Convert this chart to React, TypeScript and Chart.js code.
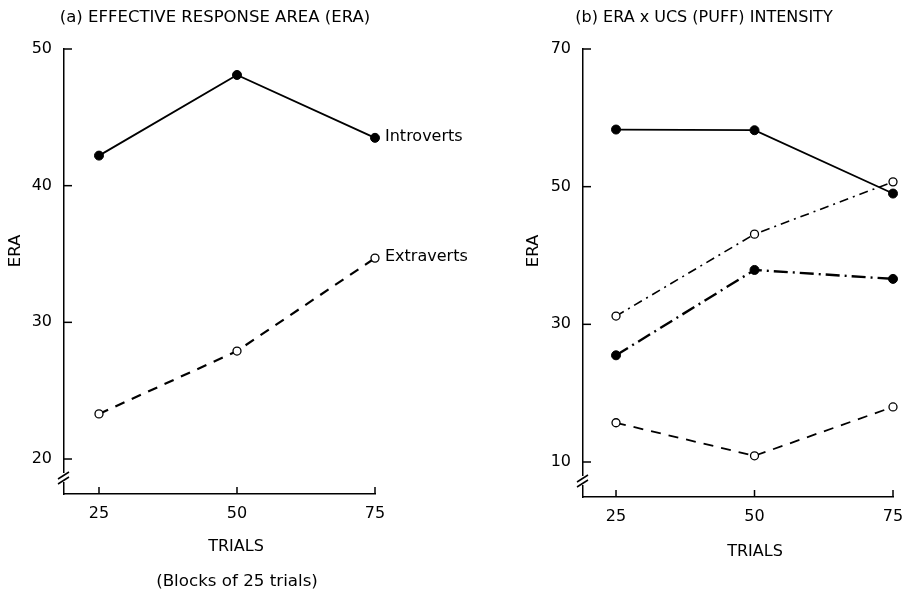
import React, { useEffect, useRef } from 'react';
import { Chart, registerables } from 'chart.js';

Chart.register(...registerables);

// ---- data ----
const trials = [25, 50, 75];
const xTickValues = [25, 50, 75];

// Panel (a)
const introverts = [42.2, 48.1, 43.5];
const extraverts = [23.3, 27.9, 34.7];
const leftYTicks = [20, 30, 40, 50];

// Panel (b)
const puffSolidFilled = [58.3, 58.2, 49.0];
const puffDashDotOpen = [31.2, 43.1, 50.7];
const puffLongDashDotFilled = [25.5, 37.9, 36.6];
const puffDashedOpen = [15.7, 10.9, 18.0];
const rightYTicks = [10, 30, 50, 70];

const titleA = '(a) EFFECTIVE RESPONSE AREA (ERA)';
const titleB = '(b) ERA x UCS (PUFF) INTENSITY';
const yTitle = 'ERA';
const xTitle = 'TRIALS';
const xSubTitle = '(Blocks of 25 trials)';
const seriesLabelsA = ['Introverts', 'Extraverts'];

const FONT = '"DejaVu Sans", "Liberation Sans", Arial, sans-serif';

type TextItem = { text: string; x: number; y: number; size: number; rotate?: boolean; align?: CanvasTextAlign };

function decorPlugin(texts: TextItem[], endLabels: (string | null)[]) {
  return {
    id: 'decor',
    afterDraw(chart: any) {
      const ctx: CanvasRenderingContext2D = chart.ctx;
      const xs = chart.scales.x;
      const ys = chart.scales.y;
      const ax = chart.chartArea.left;
      const ay = chart.chartArea.bottom;
      ctx.save();
      ctx.strokeStyle = '#000';
      ctx.lineWidth = 1.5;
      ctx.setLineDash([]);
      const line = (x1: number, y1: number, x2: number, y2: number) => {
        ctx.beginPath();
        ctx.moveTo(x1, y1);
        ctx.lineTo(x2, y2);
        ctx.stroke();
      };
      ys.ticks.forEach((t: any) => {
        const py = ys.getPixelForValue(t.value);
        line(ax, py, ax + 8, py);
      });
      xs.ticks.forEach((t: any) => {
        const px = xs.getPixelForValue(t.value);
        line(px, ay, px, ay - 7);
      });
      // axis break
      const by = ay - 16;
      ctx.fillStyle = '#fff';
      ctx.fillRect(ax - 3, by - 5, 6, 9);
      line(ax - 6, by + 1, ax + 5, by - 6);
      line(ax - 6, by + 6, ax + 5, by - 1);

      ctx.fillStyle = '#000';
      texts.forEach((t) => {
        ctx.font = `${t.size}px ${FONT}`;
        ctx.textAlign = t.align || 'center';
        ctx.textBaseline = 'middle';
        if (t.rotate) {
          ctx.save();
          ctx.translate(t.x, t.y);
          ctx.rotate(-Math.PI / 2);
          ctx.fillText(t.text, 0, 0);
          ctx.restore();
        } else {
          ctx.fillText(t.text, t.x, t.y);
        }
      });
      // series end labels
      ctx.font = `16px ${FONT}`;
      ctx.textAlign = 'left';
      ctx.textBaseline = 'middle';
      endLabels.forEach((lab, i) => {
        if (!lab) return;
        const meta = chart.getDatasetMeta(i);
        const pt = meta.data[meta.data.length - 1];
        ctx.fillText(lab, pt.x + 10, pt.y - 1);
      });
      ctx.restore();
    },
  };
}

type PanelCfg = {
  datasets: any[];
  yMin: number;
  yMax: number;
  yTicks: number[];
  xMin: number;
  xMax: number;
  yAxisWidth: number;
  padRight: number;
  padBottom: number;
  texts: TextItem[];
  endLabels: (string | null)[];
};

function makeChart(canvas: HTMLCanvasElement, cfg: PanelCfg) {
  return new Chart(canvas, {
    type: 'line',
    data: { datasets: cfg.datasets.map((d) => ({ clip: 12, ...d })) },
    options: {
      responsive: false,
      animation: false,
      layout: { padding: { left: 0, top: 49, right: cfg.padRight, bottom: cfg.padBottom } },
      plugins: { legend: { display: false }, tooltip: { enabled: false }, title: { display: false } },
      scales: {
        x: {
          type: 'linear',
          min: cfg.xMin,
          max: cfg.xMax,
          afterBuildTicks: (s: any) => {
            s.ticks = xTickValues.map((v) => ({ value: v }));
          },
          afterFit: (s: any) => {
            s.height = 40;
            s.paddingLeft = 0;
            s.paddingRight = 0;
          },
          grid: { display: false, drawTicks: false },
          border: { display: true, color: '#000', width: 1.5 },
          ticks: { color: '#000', font: { family: FONT, size: 16 }, padding: 10, maxRotation: 0, autoSkip: false },
        },
        y: {
          type: 'linear',
          min: cfg.yMin,
          max: cfg.yMax,
          afterBuildTicks: (s: any) => {
            s.ticks = cfg.yTicks.map((v) => ({ value: v }));
          },
          afterFit: (s: any) => {
            s.width = cfg.yAxisWidth;
            s.paddingTop = 0;
            s.paddingBottom = 0;
          },
          grid: { display: false, drawTicks: false },
          border: { display: true, color: '#000', width: 1.5 },
          ticks: { color: '#000', font: { family: FONT, size: 16 }, padding: 12, autoSkip: false },
        },
      },
    },
    plugins: [decorPlugin(cfg.texts, cfg.endLabels)],
  } as any);
}

const pts = (ys: number[]) => trials.map((t, i) => ({ x: t, y: ys[i] }));

const filled = { pointBackgroundColor: '#000', pointBorderColor: '#000', pointRadius: 4.5, pointBorderWidth: 1 };
const open = { pointBackgroundColor: '#fff', pointBorderColor: '#000', pointRadius: 4, pointBorderWidth: 1.3 };

const LEFT_W = 485;

export default function App() {
  const leftRef = useRef<HTMLCanvasElement>(null);
  const rightRef = useRef<HTMLCanvasElement>(null);

  useEffect(() => {
    const left = makeChart(leftRef.current!, {
      datasets: [
        { data: pts(introverts), borderColor: '#000', borderWidth: 1.8, ...filled },
        { data: pts(extraverts), borderColor: '#000', borderWidth: 2.2, borderDash: [10, 8], ...open },
      ],
      yMin: 17.44,
      yMax: 50,
      yTicks: leftYTicks,
      xMin: 18.66,
      xMax: 75,
      yAxisWidth: 64,
      padRight: LEFT_W - 375,
      padBottom: 58,
      texts: [
        { text: titleA, x: 215, y: 18, size: 16.5 },
        { text: yTitle, x: 16, y: 251, size: 16.5, rotate: true },
        { text: xTitle, x: 236, y: 547, size: 16 },
        { text: xSubTitle, x: 237, y: 582, size: 16.7 },
      ],
      endLabels: seriesLabelsA,
    });
    const right = makeChart(rightRef.current!, {
      datasets: [
        { data: pts(puffSolidFilled), borderColor: '#000', borderWidth: 1.8, ...filled },
        { data: pts(puffDashDotOpen), borderColor: '#000', borderWidth: 1.6, borderDash: [9, 5, 2, 5], ...open },
        { data: pts(puffLongDashDotFilled), borderColor: '#000', borderWidth: 2.4, borderDash: [14, 5, 2, 5], ...filled },
        { data: pts(puffDashedOpen), borderColor: '#000', borderWidth: 1.8, borderDash: [10, 8], ...open },
      ],
      yMin: 4.915,
      yMax: 70,
      yTicks: rightYTicks,
      xMin: 19.04,
      xMax: 75,
      yAxisWidth: 583 - LEFT_W,
      padRight: 10,
      padBottom: 55,
      texts: [
        { text: titleB, x: 704 - LEFT_W, y: 18, size: 16 },
        { text: yTitle, x: 534 - LEFT_W, y: 251, size: 16.5, rotate: true },
        { text: xTitle, x: 755 - LEFT_W, y: 552, size: 16 },
      ],
      endLabels: [null, null, null, null],
    });
    return () => {
      left.destroy();
      right.destroy();
    };
  }, []);

  return (
    <div style={{ position: 'absolute', left: 0, top: 0, width: 903, height: 592, background: '#fff' }}>
      <canvas ref={leftRef} width={LEFT_W} height={592} style={{ position: 'absolute', left: 0, top: 0, display: 'block' }} />
      <canvas ref={rightRef} width={903 - LEFT_W} height={592} style={{ position: 'absolute', left: LEFT_W, top: 0, display: 'block' }} />
    </div>
  );
}
